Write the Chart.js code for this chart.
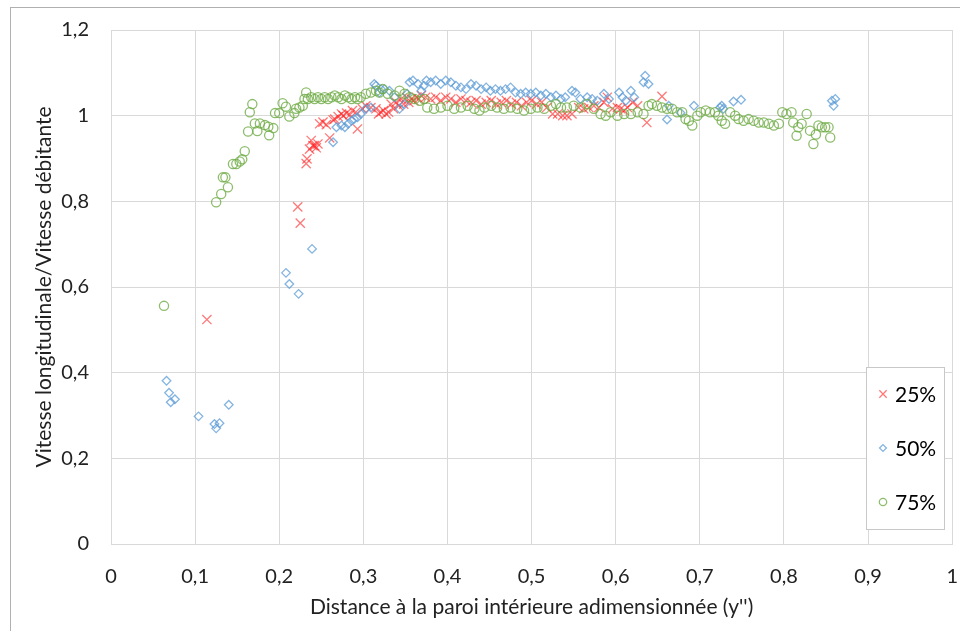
<!DOCTYPE html>
<html lang="fr">
<head>
<meta charset="UTF-8">
<title>Vitesse longitudinale / Vitesse débitante</title>
<script src="https://cdn.jsdelivr.net/npm/chart.js"></script>
<style>
  html, body { margin: 0; padding: 0; background: #fff; }
  #wrap { position: relative; width: 960px; height: 631px; }
</style>
</head>
<body>
<div id="wrap"><canvas id="vitesseChart" width="960" height="631"></canvas></div>
<script>
// valeurs : [distance y'', vitesse relative]
const serie25 = [
  [0.114,0.524],[0.222,0.787],[0.225,0.749],[0.232,0.888],[0.233,0.899],[0.236,0.922],[0.238,0.942],[0.240,0.930],
  [0.242,0.930],[0.244,0.925],[0.246,0.934],[0.248,0.981],[0.252,0.985],[0.256,0.979],[0.260,0.948],[0.264,0.990],
  [0.266,0.992],[0.270,0.998],[0.274,1.004],[0.276,1.000],[0.280,1.006],[0.284,1.002],[0.287,1.012],[0.291,1.008],
  [0.293,0.969],[0.299,1.016],[0.303,1.023],[0.309,1.019],[0.315,1.016],[0.318,1.004],[0.321,1.008],[0.324,1.012],
  [0.327,1.004],[0.330,1.008],[0.333,1.027],[0.336,1.016],[0.339,1.031],[0.342,1.023],[0.345,1.039],[0.348,1.027],
  [0.351,1.043],[0.354,1.031],[0.357,1.039],[0.360,1.035],[0.363,1.043],[0.366,1.039],[0.369,1.047],[0.374,1.043],
  [0.380,1.039],[0.386,1.043],[0.392,1.035],[0.398,1.043],[0.404,1.039],[0.410,1.031],[0.416,1.039],[0.422,1.035],
  [0.428,1.031],[0.434,1.035],[0.440,1.027],[0.446,1.031],[0.452,1.035],[0.458,1.027],[0.464,1.031],[0.470,1.035],
  [0.476,1.027],[0.482,1.031],[0.488,1.023],[0.494,1.031],[0.500,1.035],[0.506,1.027],[0.512,1.031],[0.518,1.019],
  [0.525,1.004],[0.531,1.004],[0.537,1.000],[0.542,1.000],[0.548,1.004],[0.556,1.019],[0.562,1.016],[0.568,1.019],
  [0.574,1.023],[0.580,1.019],[0.586,1.031],[0.590,1.043],[0.596,1.016],[0.602,1.019],[0.606,1.016],[0.610,1.012],
  [0.614,1.019],[0.620,1.031],[0.626,1.023],[0.637,0.984],[0.655,1.045]
];

const serie50 = [
  [0.066,0.381],[0.069,0.353],[0.071,0.331],[0.076,0.338],[0.104,0.298],[0.123,0.280],[0.125,0.270],[0.129,0.282],
  [0.140,0.325],[0.208,0.633],[0.212,0.607],[0.223,0.584],[0.239,0.689],[0.264,0.938],[0.268,0.973],[0.274,0.977],
  [0.278,0.973],[0.282,0.981],[0.286,0.988],[0.289,0.992],[0.293,0.996],[0.297,1.004],[0.303,1.016],[0.309,1.019],
  [0.313,1.074],[0.315,1.070],[0.319,1.054],[0.321,1.062],[0.325,1.062],[0.331,1.058],[0.337,1.043],[0.343,1.016],
  [0.349,1.027],[0.352,1.051],[0.355,1.078],[0.359,1.082],[0.365,1.074],[0.369,1.058],[0.372,1.070],[0.375,1.082],
  [0.380,1.078],[0.386,1.082],[0.392,1.074],[0.398,1.082],[0.404,1.078],[0.410,1.070],[0.416,1.066],[0.422,1.062],
  [0.428,1.074],[0.434,1.070],[0.440,1.062],[0.446,1.066],[0.451,1.058],[0.457,1.062],[0.463,1.058],[0.469,1.062],
  [0.475,1.066],[0.481,1.054],[0.487,1.051],[0.493,1.054],[0.499,1.051],[0.505,1.054],[0.511,1.047],[0.517,1.051],
  [0.523,1.043],[0.529,1.047],[0.535,1.039],[0.540,1.043],[0.548,1.058],[0.552,1.054],[0.558,1.039],[0.566,1.043],
  [0.572,1.039],[0.578,1.035],[0.586,1.051],[0.592,1.039],[0.604,1.054],[0.608,1.043],[0.612,1.035],[0.618,1.058],
  [0.622,1.043],[0.633,1.078],[0.635,1.093],[0.639,1.074],[0.661,0.991],[0.663,1.023],[0.677,1.007],[0.693,1.023],
  [0.724,1.019],[0.726,1.023],[0.728,1.016],[0.740,1.033],[0.749,1.037],[0.857,1.035],[0.859,1.023],[0.861,1.039]
];

const serie75 = [
  [0.063,0.556],[0.125,0.798],[0.131,0.817],[0.133,0.856],[0.136,0.856],[0.139,0.833],[0.145,0.887],[0.149,0.887],
  [0.153,0.893],[0.156,0.898],[0.159,0.917],[0.163,0.963],[0.165,1.008],[0.168,1.027],[0.171,0.982],[0.174,0.964],
  [0.177,0.982],[0.183,0.978],[0.187,0.974],[0.188,0.954],[0.193,0.971],[0.195,1.006],[0.200,1.006],[0.204,1.029],
  [0.208,1.021],[0.212,0.998],[0.218,1.006],[0.220,1.016],[0.224,1.019],[0.228,1.023],[0.230,1.039],[0.232,1.054],
  [0.234,1.039],[0.238,1.043],[0.242,1.039],[0.246,1.043],[0.250,1.039],[0.254,1.043],[0.258,1.039],[0.262,1.043],
  [0.266,1.047],[0.270,1.043],[0.274,1.039],[0.278,1.047],[0.282,1.043],[0.286,1.039],[0.290,1.043],[0.293,1.039],
  [0.297,1.043],[0.303,1.051],[0.309,1.054],[0.315,1.058],[0.319,1.054],[0.323,1.062],[0.329,1.051],[0.337,1.047],
  [0.343,1.058],[0.349,1.051],[0.355,1.043],[0.361,1.039],[0.367,1.035],[0.372,1.039],[0.376,1.019],[0.384,1.016],
  [0.392,1.019],[0.400,1.023],[0.408,1.016],[0.416,1.019],[0.424,1.023],[0.432,1.016],[0.438,1.012],[0.444,1.019],
  [0.452,1.023],[0.459,1.019],[0.467,1.016],[0.475,1.019],[0.483,1.016],[0.491,1.012],[0.499,1.016],[0.507,1.019],
  [0.515,1.016],[0.523,1.023],[0.529,1.027],[0.535,1.019],[0.542,1.019],[0.550,1.023],[0.558,1.019],[0.566,1.027],
  [0.574,1.016],[0.582,1.004],[0.588,1.000],[0.594,1.008],[0.602,1.000],[0.610,1.004],[0.618,1.004],[0.626,1.008],
  [0.633,1.004],[0.639,1.023],[0.643,1.027],[0.649,1.023],[0.655,1.019],[0.661,1.016],[0.667,1.016],[0.673,1.008],
  [0.679,1.008],[0.683,0.992],[0.687,0.988],[0.691,0.977],[0.697,1.000],[0.701,1.008],[0.707,1.012],[0.712,1.008],
  [0.718,1.008],[0.722,1.000],[0.726,0.988],[0.730,0.981],[0.736,1.008],[0.742,1.000],[0.746,0.992],[0.752,0.988],
  [0.758,0.992],[0.764,0.988],[0.770,0.984],[0.776,0.984],[0.782,0.981],[0.788,0.977],[0.794,0.981],[0.798,1.008],
  [0.803,1.004],[0.809,1.008],[0.811,0.984],[0.815,0.953],[0.817,0.973],[0.821,0.981],[0.827,1.004],[0.831,0.965],
  [0.835,0.934],[0.838,0.956],[0.841,0.977],[0.845,0.973],[0.849,0.973],[0.853,0.973],[0.855,0.949]
];

const seriesLabels = ['25%', '50%', '75%'];
const xTickLabels = ['0', '0,1', '0,2', '0,3', '0,4', '0,5', '0,6', '0,7', '0,8', '0,9', '1'];
const yTickLabels = ['0', '0,2', '0,4', '0,6', '0,8', '1', '1,2'];

const police = 'Lato, "Liberation Sans", sans-serif';
const gris = '#d9d9d9';
const texte = '#222222';

function toPoints(serie) {
  return serie.map(p => ({ x: p[0], y: p[1] }));
}

// cadre extérieur du graphique
const cadre = {
  id: 'cadre',
  beforeDraw(chart) {
    const ctx = chart.ctx;
    ctx.save();
    ctx.fillStyle = '#fff';
    ctx.fillRect(0, 0, chart.width, chart.height);
    ctx.strokeStyle = '#b0b0b0';
    ctx.lineWidth = 1;
    ctx.strokeRect(10.5, 7.5, 1000, 1000);
    ctx.restore();
  }
};

// légende encadrée dans la zone de tracé
const legendeBox = {
  id: 'legendeBox',
  afterDatasetsDraw(chart) {
    const ctx = chart.ctx;
    ctx.save();
    ctx.fillStyle = '#fff';
    ctx.fillRect(866, 367, 78, 162);
    ctx.strokeStyle = '#c8c8c8';
    ctx.lineWidth = 1;
    ctx.strokeRect(866.5, 367.5, 78, 162);
    chart.data.datasets.forEach((ds, i) => {
      const y = 394 + i * 54;
      ctx.strokeStyle = ds.borderColor;
      ctx.fillStyle = 'rgba(0,0,0,0)';
      ctx.lineWidth = ds.borderWidth;
      Chart.helpers.drawPoint(ctx, {
        pointStyle: ds.pointStyle,
        radius: ds.pointRadius * 0.8,
        rotation: 0,
        borderWidth: ds.borderWidth
      }, 883, y);
      ctx.fillStyle = '#000';
      ctx.font = '21px ' + police;
      ctx.textAlign = 'left';
      ctx.textBaseline = 'middle';
      ctx.fillText(ds.label, 895, y + 1);
    });
    ctx.restore();
  }
};

const ctx = document.getElementById('vitesseChart').getContext('2d');
new Chart(ctx, {
  type: 'scatter',
  data: {
    datasets: [
      {
        label: seriesLabels[0],
        data: toPoints(serie25),
        pointStyle: 'crossRot',
        pointRadius: 6.5,
        borderWidth: 1.3,
        borderColor: 'rgba(255,30,30,0.6)',
        backgroundColor: 'rgba(0,0,0,0)',
        order: 3
      },
      {
        label: seriesLabels[1],
        data: toPoints(serie50),
        pointStyle: 'rectRot',
        pointRadius: 4.3,
        borderWidth: 1.3,
        borderColor: 'rgba(91,155,213,0.75)',
        backgroundColor: 'rgba(0,0,0,0)',
        order: 2
      },
      {
        label: seriesLabels[2],
        data: toPoints(serie75),
        pointStyle: 'circle',
        pointRadius: 4.6,
        borderWidth: 1.3,
        borderColor: 'rgba(112,173,71,0.8)',
        backgroundColor: 'rgba(0,0,0,0)',
        order: 1
      }
    ]
  },
  options: {
    responsive: false,
    animation: false,
    devicePixelRatio: 1,
    layout: { padding: { top: 30, right: 6, left: 0, bottom: 0 } },
    plugins: {
      legend: { display: false },
      tooltip: { enabled: false }
    },
    scales: {
      x: {
        type: 'linear',
        min: 0,
        max: 1,
        afterFit: s => { s.height = 87; },
        // la longueur des traits (invisibles) décale les étiquettes sans rogner la zone de tracé
        grid: { color: gris, drawTicks: true, tickLength: 21, tickColor: 'rgba(0,0,0,0)' },
        border: { color: gris },
        ticks: {
          stepSize: 0.1,
          padding: 0,
          color: texte,
          font: { family: police, size: 20 },
          callback: v => xTickLabels[Math.round(v * 10)]
        },
        title: {
          display: true,
          text: "Distance à la paroi intérieure adimensionnée (y'')",
          color: texte,
          font: { family: police, size: 21 },
          padding: { top: 0, bottom: 11 }
        }
      },
      y: {
        min: 0,
        max: 1.2,
        afterFit: s => { s.width = 111; },
        grid: { color: gris, drawTicks: true, tickLength: 22, tickColor: 'rgba(0,0,0,0)' },
        border: { color: gris },
        ticks: {
          stepSize: 0.2,
          padding: 0,
          color: texte,
          font: { family: police, size: 20 },
          callback: v => yTickLabels[Math.round(v * 5)]
        },
        title: {
          display: true,
          text: 'Vitesse longitudinale/Vitesse débitante',
          color: texte,
          font: { family: police, size: 21 },
          padding: { top: 32, bottom: 0 }
        }
      }
    }
  },
  plugins: [cadre, legendeBox]
});
</script>
</body>
</html>
